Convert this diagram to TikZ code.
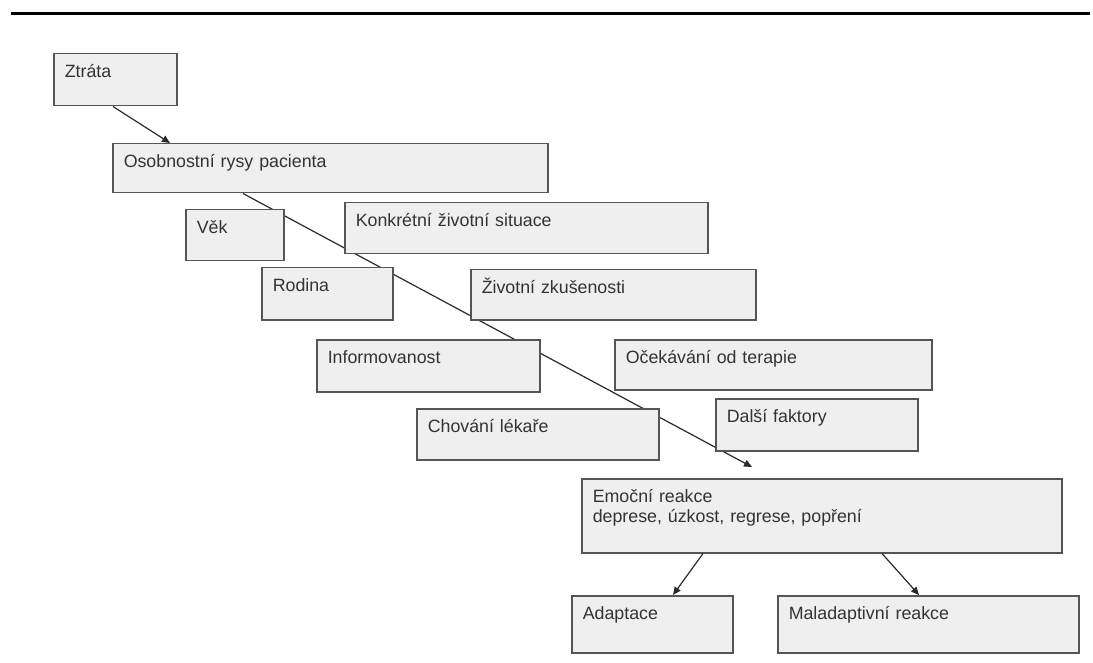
\documentclass[tikz,border=0pt]{standalone}
\usepackage{fontspec}
\setmainfont{Liberation Sans}
\usetikzlibrary{arrows.meta,calc}
\pgfdeclarelayer{background}
\pgfdeclarelayer{canvas}
\pgfsetlayers{canvas,background,main}
\definecolor{boxfill}{HTML}{EFEFEF}
\definecolor{boxline}{HTML}{555555}
\definecolor{txt}{HTML}{333333}
\definecolor{conn}{HTML}{2A2A2A}
\begin{document}
\begin{tikzpicture}[x=1pt,y=-1pt,
  box/.style={draw=boxline, fill=boxfill, line width=1.5pt, inner xsep=11pt, inner ysep=0pt,
    text height=24pt, align=left, anchor=north west, text=txt,
    font=\fontsize{17.8pt}{20pt}\selectfont},
  conarrow/.style={draw=conn, line width=1.2pt, -{Triangle[length=8pt,width=7pt]}}]
\begin{pgfonlayer}{canvas}
\fill[white] (0,0) rectangle (1093,663);
\end{pgfonlayer}
\useasboundingbox (0,0) rectangle (1093,663);
\coordinate (ruleL) at (11,14);
\coordinate (ruleR) at (1090,14);
\draw[black, line width=3pt] (ruleL) -- (ruleR);

\node[box, text width=101pt, text depth=28pt] (ztrata) at (53,53) {Ztráta};
\node[box, text width=413pt, text depth=25pt] (osob) at (112,143) {Osobnostní rysy pacienta};
\node[box, text width=76pt, text depth=27pt] (vek) at (185,209) {Věk};
\node[box, text width=341pt, text depth=27pt] (konk) at (344,202) {Konkrétní životní situace};
\node[box, text width=109pt, text depth=28pt] (rodina) at (261,267) {Rodina};
\node[box, text width=263pt, text depth=26pt] (zivot) at (470,269) {Životní zkušenosti};
\node[box, text width=201pt, text depth=28pt] (inform) at (316,339) {Informovanost};
\node[box, text width=295pt, text depth=26pt] (ocek) at (614,339) {Očekávání od terapie};
\node[box, text width=220pt, text depth=27pt] (chov) at (416,408) {Chování lékaře};
\node[box, text width=180pt, text depth=28pt] (dalsi) at (715,398) {Další faktory};
\node[box, text width=458pt, text depth=50pt] (emoc) at (581,478) {Emoční reakce\\deprese, úzkost, regrese, popření};
\node[box, text width=139pt, text depth=33pt] (adapt) at (571,595) {Adaptace};
\node[box, text width=279pt, text depth=33pt] (malad) at (777,595) {Maladaptivní reakce};

\draw[conarrow] ($(ztrata.south west)+(60,0)$) -- ($(osob.north west)+(58,0)$);
\coordinate (longtip) at ($(emoc.north west)+(171,-11)$);
\begin{pgfonlayer}{background}
\draw[conarrow] ($(osob.south west)+(131,0)$) -- (longtip);
\end{pgfonlayer}
\draw[conarrow] ($(emoc.south west)+(122,0)$) -- ($(adapt.north west)+(102,0)$);
\draw[conarrow] ($(emoc.south west)+(301,0)$) -- ($(malad.north west)+(142,0)$);
\end{tikzpicture}
\end{document}
